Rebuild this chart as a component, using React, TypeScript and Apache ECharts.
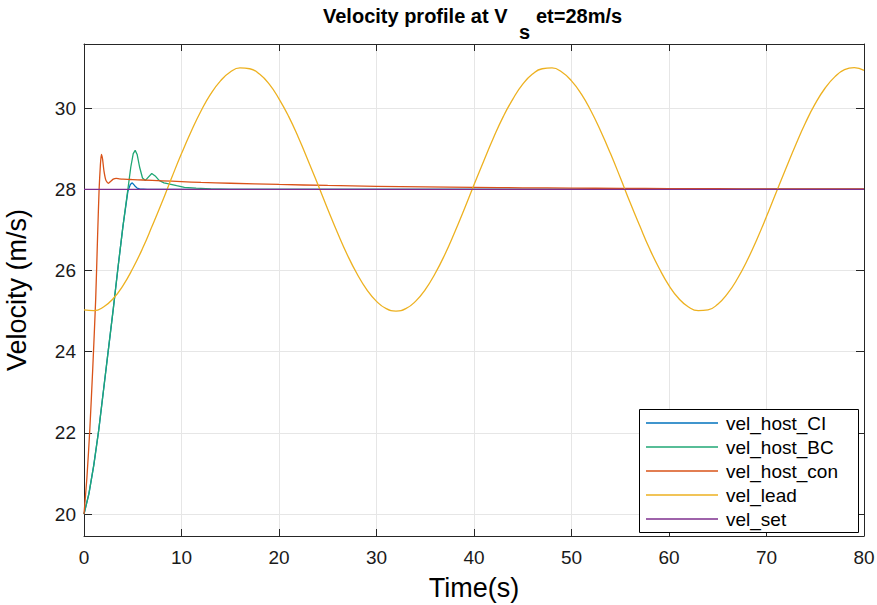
import React, { useEffect, useRef } from "react";
import * as echarts from "echarts";

const FONT = "'Liberation Sans', Arial, Helvetica, sans-serif";

// Title pieces (V with subscript "s", then "et=28m/s")
const titleMain = "Velocity profile at V";
const titleSub = "s";
const titleTail = "et=28m/s";

// Time axis ticks
const xTicks = [0, 10, 20, 30, 40, 50, 60, 70, 80];

// vel_host_CI
const ciT = [0, 0.5, 1, 1.5, 2, 2.5, 3, 3.5, 4, 4.5, 4.75, 4.95, 5.2, 5.45, 5.7, 6.5, 80];
const ciV = [20, 20.5, 21.2, 22.05, 23.05, 24.05, 25.05, 26.1, 27.1, 27.95, 28.12, 28.16, 28.09, 28.03, 28.01, 28.0, 28.0];

// vel_host_BC
const bcT = [0, 0.5, 1, 1.5, 2, 2.5, 3, 3.5, 4, 4.5, 4.8, 5.05, 5.25, 5.45, 5.7, 6.0, 6.3, 6.6, 6.95, 7.3, 7.7, 8.2, 8.8, 9.5, 10.3, 11.5, 13, 15, 20, 80];
const bcV = [20, 20.5, 21.2, 22.05, 23.05, 24.05, 25.05, 26.1, 27.1, 28.0, 28.55, 28.88, 28.96, 28.86, 28.55, 28.28, 28.22, 28.3, 28.39, 28.33, 28.22, 28.16, 28.13, 28.09, 28.05, 28.03, 28.01, 28.0, 28.0, 28.0];

// vel_host_con
const conT = [0, 0.3, 0.6, 0.9, 1.2, 1.4, 1.55, 1.68, 1.78, 1.9, 2.05, 2.25, 2.5, 2.75, 3.0, 3.3, 3.6, 4.0, 5, 6, 8, 10, 12, 15, 20, 25, 30, 35, 40, 45, 50, 55, 60, 65, 70, 75, 80];
const conV = [20, 20.9, 22.1, 23.6, 25.3, 26.9, 28.0, 28.6, 28.86, 28.75, 28.45, 28.22, 28.15, 28.2, 28.25, 28.27, 28.26, 28.25, 28.24, 28.23, 28.21, 28.19, 28.17, 28.15, 28.12, 28.095, 28.075, 28.06, 28.048, 28.038, 28.03, 28.024, 28.019, 28.015, 28.012, 28.01, 28.008];

// vel_lead, sampled every second from t = 0 to t = 80
const leadStep = 1;
const leadV = [
  25.03, 25.01, 25.10, 25.31, 25.63, 26.05, 26.54, 27.10, 27.68, 28.29,
  28.88, 29.43, 29.93, 30.35, 30.67, 30.89, 30.99, 30.97, 30.84, 30.59,
  30.23, 29.79, 29.27, 28.70, 28.11, 27.51, 26.93, 26.39, 25.92, 25.53,
  25.24, 25.06, 25.00, 25.06, 25.24, 25.53, 25.92, 26.39, 26.93, 27.51,
  28.11, 28.70, 29.27, 29.79, 30.23, 30.59, 30.84, 30.97, 30.99, 30.89,
  30.67, 30.35, 29.93, 29.43, 28.88, 28.29, 27.68, 27.10, 26.54, 26.05,
  25.63, 25.31, 25.10, 25.01, 25.03, 25.17, 25.43, 25.79, 26.24, 26.76,
  27.33, 27.93, 28.52, 29.10, 29.64, 30.11, 30.49, 30.77, 30.95, 31.00,
  30.93,
];

// vel_set
const setT = [0, 80];
const setV = [28, 28];

const seriesNames = ["vel_host_CI", "vel_host_BC", "vel_host_con", "vel_lead", "vel_set"];
const seriesColors = ["#0072BD", "#1FA774", "#D95319", "#EDB120", "#7E2F8E"];

const zip = (t: number[], v: number[]) => t.map((x, i) => [x, v[i]]);

export default function App() {
  const ref = useRef<HTMLDivElement>(null);

  useEffect(() => {
    if (!ref.current) return;
    const chart = echarts.init(ref.current, undefined, { renderer: "svg" });

    const leadT = leadV.map((_, i) => i * leadStep);
    const datasets = [zip(ciT, ciV), zip(bcT, bcV), zip(conT, conV), zip(leadT, leadV), zip(setT, setV)];
    const smoothMap: (number | boolean)[] = [false, false, 0.2, true, false];

    const yMin = 19.46;
    const yMax = 31.58;
    const axisColor = "#262626";
    const titleFont = `bold 20px ${FONT}`;

    chart.setOption({
      animation: false,
      backgroundColor: "#ffffff",
      grid: { left: 84, right: 13, top: 44, bottom: 69, containLabel: false, outerBoundsMode: "none" },
      xAxis: [
        {
          type: "value",
          min: xTicks[0],
          max: xTicks[xTicks.length - 1],
          interval: xTicks[1] - xTicks[0],
          name: "Time(s)",
          nameLocation: "middle",
          nameGap: 38,
          nameTextStyle: { fontSize: 27, fontFamily: FONT, color: "#000" },
          axisLine: { show: true, onZero: false, lineStyle: { color: axisColor, width: 1 } },
          axisTick: { show: true, inside: true, length: 7, lineStyle: { color: axisColor } },
          axisLabel: { fontSize: 19, fontFamily: FONT, color: "#1a1a1a", margin: 12 },
          splitLine: { show: true, lineStyle: { color: "#e6e6e6", width: 1 } },
        },
        {
          type: "value",
          position: "top",
          min: xTicks[0],
          max: xTicks[xTicks.length - 1],
          interval: xTicks[1] - xTicks[0],
          axisLine: { show: true, onZero: false, lineStyle: { color: axisColor, width: 1 } },
          axisTick: { show: true, inside: true, length: 7, lineStyle: { color: axisColor } },
          axisLabel: { show: false },
          splitLine: { show: false },
        },
      ],
      yAxis: [
        {
          type: "value",
          min: yMin,
          max: yMax,
          name: "Velocity (m/s)",
          nameLocation: "middle",
          nameGap: 54,
          nameTextStyle: { fontSize: 27, fontFamily: FONT, color: "#000" },
          axisLine: { show: true, onZero: false, lineStyle: { color: axisColor, width: 1 } },
          axisTick: { show: true, inside: true, length: 8, lineStyle: { color: axisColor } },
          axisLabel: {
            fontSize: 19,
            fontFamily: FONT,
            color: "#1a1a1a",
            margin: 8,
            formatter: (v: number) => {
              const r = Math.round(v);
              return Math.abs(v - r) < 1e-6 && r % 2 === 0 ? String(r) : "";
            },
          },
          splitLine: { show: true, lineStyle: { color: "#e6e6e6", width: 1 } },
        },
        {
          type: "value",
          position: "right",
          min: yMin,
          max: yMax,
          axisLine: { show: true, onZero: false, lineStyle: { color: axisColor, width: 1 } },
          axisTick: { show: true, inside: true, length: 8, lineStyle: { color: axisColor } },
          axisLabel: { show: false },
          splitLine: { show: false },
        },
      ],
      legend: {
        orient: "vertical",
        left: 646,
        top: 411,
        padding: 0,
        icon: "rect",
        itemWidth: 72,
        itemHeight: 1.5,
        itemGap: 0,
        z: 10,
        textStyle: { fontSize: 19, fontFamily: FONT, color: "#000", lineHeight: 24, padding: [0, 0, 0, 3] },
        data: seriesNames,
      },
      graphic: [
        {
          type: "rect",
          z: 9,
          shape: { x: 639.5, y: 409.5, width: 219, height: 123 },
          style: { fill: "#ffffff", stroke: "#000000", lineWidth: 1 },
        },
        {
          type: "text",
          x: 323,
          y: 15.8,
          z: 10,
          style: { text: titleMain, font: titleFont, fill: "#000", align: "left", verticalAlign: "middle" },
        },
        {
          type: "text",
          x: 519,
          y: 32,
          z: 10,
          style: { text: titleSub, font: titleFont, fill: "#000", align: "left", verticalAlign: "middle" },
        },
        {
          type: "text",
          x: 536,
          y: 15.8,
          z: 10,
          style: { text: titleTail, font: titleFont, fill: "#000", align: "left", verticalAlign: "middle" },
        },
      ],
      series: seriesNames.map((name, i) => ({
        name,
        type: "line",
        xAxisIndex: 0,
        yAxisIndex: 0,
        data: datasets[i],
        showSymbol: false,
        symbol: "none",
        smooth: smoothMap[i],
        color: seriesColors[i],
        lineStyle: { color: seriesColors[i], width: 1.3 },
        z: 2 + i,
      })),
    });

    return () => chart.dispose();
  }, []);

  return <div ref={ref} style={{ position: "fixed", left: 0, top: 0, width: 877, height: 605 }} />;
}
